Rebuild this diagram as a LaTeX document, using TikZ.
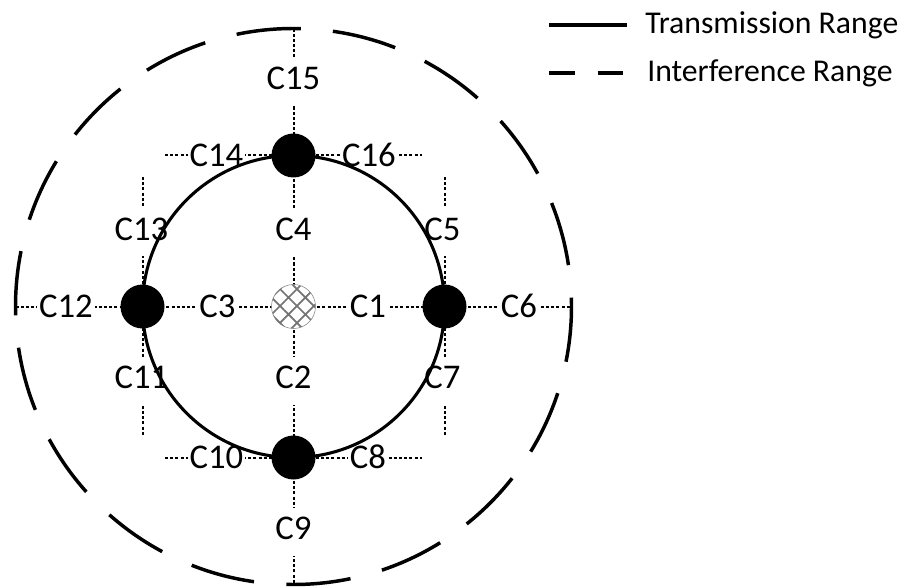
\documentclass[tikz,border=0pt]{standalone}
\usepackage{fontspec}
\setmainfont{Carlito}
\usetikzlibrary{patterns.meta}
\begin{document}
\begin{tikzpicture}[x=0.75pt,y=0.75pt,
  gridline/.style={line width=1.5pt, dash pattern=on 2.3pt off 1.6pt},
  lab/.style={fill=white, inner xsep=1.5pt, inner ysep=0pt, text height=24pt, text depth=12pt, font=\fontsize{26}{31}\selectfont},
  leg/.style={anchor=west, inner sep=0pt, font=\fontsize{23.8}{28}\selectfont},
  tx/.style={circle, fill=black, minimum size=33pt, inner sep=0pt},
  src/.style={circle, draw=gray, line width=0.4pt, minimum size=33pt, inner sep=0pt,
    preaction={fill=white},
    pattern={Hatch[angle=45,distance=9pt,line width=1.3pt]}, pattern color=black!55},
  trange/.style={line width=2.3pt},
  irange/.style={line width=2.6pt, dash pattern=on 48.4pt off 24.4pt},
]
\useasboundingbox (0,0) rectangle (902,586);
% grid coordinates
\coordinate (O) at (293.5,279.5);
\coordinate (hmL) at (15.5,279.5);   \coordinate (hmR) at (571.5,279.5);
\coordinate (vmT) at (293.5,557.5);  \coordinate (vmB) at (293.5,0);
\coordinate (htL) at (165,430.5);    \coordinate (htR) at (422,430.5);
\coordinate (hbL) at (165,128.5);    \coordinate (hbR) at (422,128.5);
\coordinate (vlT) at (142.5,409);    \coordinate (vlB) at (142.5,150);
\coordinate (vrT) at (444.5,409);    \coordinate (vrB) at (444.5,150);
% dotted grid
\draw[gridline] (hmL) -- (hmR);
\draw[gridline] (vmT) -- (vmB);
\draw[gridline] (htL) -- (htR);
\draw[gridline] (hbL) -- (hbR);
\draw[gridline] (vlT) -- (vlB);
\draw[gridline] (vrT) -- (vrB);
% labels
\node[lab] (c15) at (293.5,504.5) {C15};
\node[lab] (c4)  at (293.5,353.5) {C4};
\node[lab] (c2)  at (293.5,205.5) {C2};
\node[lab] (c9)  at (293.5,54.5)  {C9};
\node[lab] (c14) at (216.5,427.5) {C14};
\node[lab] (c16) at (369,427.5) {C16};
\node[lab] (c10) at (216.5,125.5) {C10};
\node[lab] (c8)  at (368,125.5) {C8};
\node[lab] (c3)  at (217.5,276.5) {C3};
\node[lab] (c1)  at (368,276.5) {C1};
\node[lab] (c12) at (66,276.5) {C12};
\node[lab] (c6)  at (519,276.5) {C6};
\node[lab] (c13) at (141.5,353.5) {C13};
\node[lab] (c5)  at (442.5,353.5) {C5};
\node[lab] (c11) at (141.5,205.5) {C11};
\node[lab] (c7)  at (442.5,205.5) {C7};
% ranges
\draw[trange] (O) circle[radius=151];
\draw[irange] (O) ++(88.5:278) arc[start angle=88.5, delta angle=360, radius=278];
% nodes
\node[tx] (nT) at (293.5,430.5) {};
\node[tx] (nB) at (293.5,128.5) {};
\node[tx] (nL) at (142.5,279.5) {};
\node[tx] (nR) at (444.5,279.5) {};
\node[src] (nO) at (O) {};
% legend
\coordinate (l1a) at (549,561); \coordinate (l1b) at (627,561);
\coordinate (l2a) at (549,513); \coordinate (l2b) at (623,513);
\draw[line width=2.3pt] (l1a) -- (l1b);
\draw[line width=2.6pt, dash pattern=on 19.5pt off 17pt] (l2a) -- (l2b);
\node[leg] (t1) at (645,561) {Transmission Range};
\node[leg] (t2) at (647,513) {Interference Range};
\end{tikzpicture}
\end{document}
